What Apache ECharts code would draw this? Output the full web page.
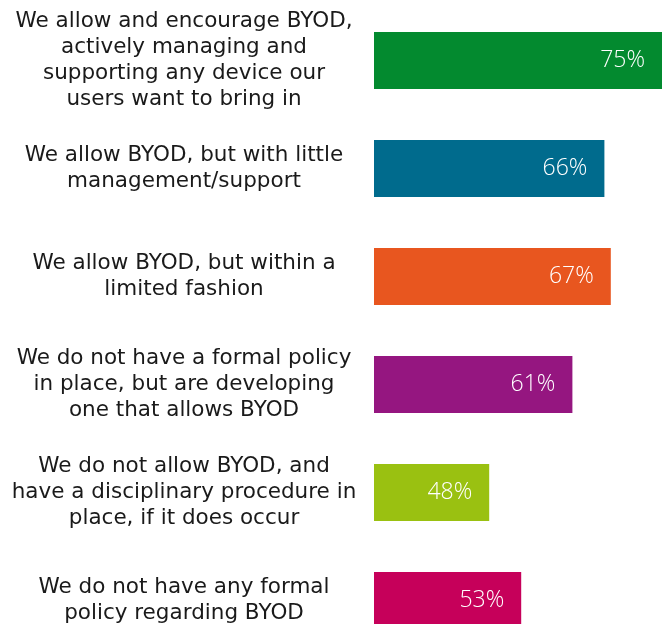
<!DOCTYPE html>
<html>
<head>
<meta charset="utf-8">
<script src="https://cdn.jsdelivr.net/npm/echarts@6/dist/echarts.min.js"></script>
<style>html,body{margin:0;padding:0;background:#fff;overflow:hidden;}#c{width:666px;height:660px;}</style>
</head>
<body>
<div id="c"></div>
<script>
const categories = [
  "We allow and encourage BYOD,\nactively managing and\nsupporting any device our\nusers want to bring in",
  "We allow BYOD, but with little\nmanagement/support",
  "We allow BYOD, but within a\nlimited fashion",
  "We do not have a formal policy\nin place, but are developing\none that allows BYOD",
  "We do not allow BYOD, and\nhave a disciplinary procedure in\nplace, if it does occur",
  "We do not have any formal\npolicy regarding BYOD"
];
const values = [75, 66, 67, 61, 48, 53];
const colors = ["#038A2F", "#006B8D", "#E8561F", "#951680", "#9AC111", "#C6005A"];

const chart = echarts.init(document.getElementById('c'));
chart.setOption({
  animation: false,
  grid: { left: 374, top: 6.5, width: 288, height: 648 },
  xAxis: { type: 'value', min: 30, max: 75, show: false },
  yAxis: {
    type: 'category', data: categories, inverse: true,
    axisLine: { show: false }, axisTick: { show: false },
    axisLabel: {
      align: 'center', margin: 190, color: '#1a1a1a',
      fontFamily: 'DejaVu Sans', fontSize: 21.5, lineHeight: 26
    }
  },
  series: [{
    type: 'bar', barWidth: 57,
    data: values.map((v, i) => ({ value: v, itemStyle: { color: colors[i] } })),
    label: {
      show: true, position: 'insideRight', distance: 17,
      formatter: '{c}%', color: '#fff',
      fontFamily: 'Open Sans', fontWeight: 300, fontSize: 23
    }
  }]
});
</script>
</body>
</html>
